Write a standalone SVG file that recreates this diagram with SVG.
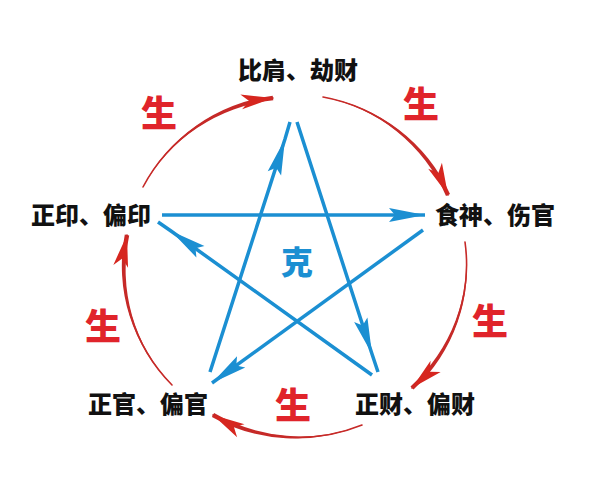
<svg xmlns="http://www.w3.org/2000/svg" width="596" height="500" viewBox="0 0 596 500">
<style>
.lbl{font-family:"Noto Sans CJK SC","Noto Sans CJK JP",sans-serif;font-weight:900;font-size:24px;fill:#111;text-anchor:middle}
.sheng{font-family:"Noto Sans CJK SC","Noto Sans CJK JP",sans-serif;font-weight:900;font-size:36px;fill:#e0242b;text-anchor:middle}
.ke{font-family:"Noto Sans CJK SC","Noto Sans CJK JP",sans-serif;font-weight:900;font-size:32px;fill:#1b8fd2;text-anchor:middle}
.arc{fill:none;stroke:#c62a28;stroke-width:1.6;stroke-linecap:round}
.taper{fill:#c62a28;stroke:none}
.kl{fill:none;stroke:#1b8fd2;stroke-width:3.5;stroke-linecap:butt}
</style>
<defs>
<marker id="ra" markerUnits="userSpaceOnUse" viewBox="-34 -9 36 18" refX="0" refY="0" markerWidth="36" markerHeight="18" orient="auto">
<path d="M0,0 L-32,-7.5 L-24,0 L-32,7.5 Z" fill="#d6261f"/>
</marker>
<marker id="ba" markerUnits="userSpaceOnUse" viewBox="-38 -8 40 16" refX="0" refY="0" markerWidth="40" markerHeight="16" orient="auto">
<path d="M0,0 L-36,-7 L-30,0 L-36,7 Z" fill="#1b8fd2"/>
</marker>
</defs>
<rect width="596" height="500" fill="#fff"/>
<g id="connectors">
<g id="sheng-cycle">
<path class="taper" d="M143,187 A170,168 0 0 1 272.7,95.8 L273.3,100.2 A170,168 0 0 0 143,187 Z"/>
<path class="arc" d="M143,187 A170,168 0 0 1 273,98" marker-end="url(#ra)"/>
<path class="taper" d="M323,97 A170,168 0 0 1 450,194.1 L446,195.9 A170,168 0 0 0 323,97 Z"/>
<path class="arc" d="M323,97 A170,168 0 0 1 448,195" marker-end="url(#ra)"/>
<path class="taper" d="M465,242 A170,168 0 0 1 413.5,389.6 L410.5,386.4 A170,168 0 0 0 465,242 Z"/>
<path class="arc" d="M465,242 A170,168 0 0 1 412,388" marker-end="url(#ra)"/>
<path class="taper" d="M362,425 A170,168 0 0 1 211.9,416.9 L214.1,413.1 A170,168 0 0 0 362,425 Z"/>
<path class="arc" d="M362,425 A170,168 0 0 1 213,415" marker-end="url(#ra)"/>
<path class="taper" d="M172,385 A170,168 0 0 1 124.8,234.6 L129.2,235.4 A170,168 0 0 0 172,385 Z"/>
<path class="arc" d="M172,385 A170,168 0 0 1 127,235" marker-end="url(#ra)"/>
</g>
<g id="ke-cycle">
<path class="kl" d="M210,372 L285,139 L290,122" marker-mid="url(#ba)"/>
<path class="kl" d="M297,122 L372,354 L378,372" marker-mid="url(#ba)"/>
<path class="kl" d="M372,375 L171,231 L158,222" marker-mid="url(#ba)"/>
<path class="kl" d="M162,215 L425,215" marker-end="url(#ba)"/>
<path class="kl" d="M423,230 L212,383" marker-end="url(#ba)"/>
</g>
</g>
<g id="node-bijian"><text class="lbl" x="298" y="79">比肩、劫财</text></g>
<g id="node-shishen"><text class="lbl" x="495" y="224">食神、伤官</text></g>
<g id="node-zhengcai"><text class="lbl" x="415" y="413">正财、偏财</text></g>
<g id="node-zhengguan"><text class="lbl" x="148" y="413">正官、偏官</text></g>
<g id="node-zhengyin"><text class="lbl" x="91" y="224">正印、偏印</text></g>
<g id="labels">
<text class="sheng" x="159" y="127">生</text>
<text class="sheng" x="421" y="118">生</text>
<text class="sheng" x="490" y="335">生</text>
<text class="sheng" x="103" y="340">生</text>
<text class="sheng" x="293" y="419">生</text>
<text class="ke" x="297" y="274">克</text>
</g>
</svg>
